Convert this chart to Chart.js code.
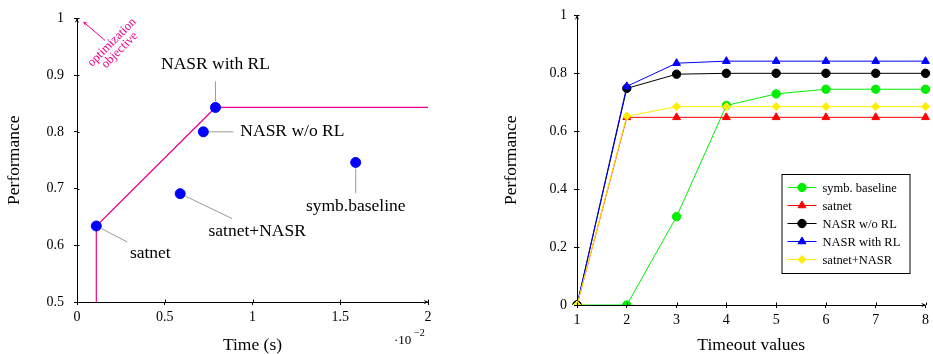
<!DOCTYPE html>
<html>
<head>
<meta charset="utf-8">
<script src="https://cdn.jsdelivr.net/npm/chart.js@4.4.0/dist/chart.umd.min.js"></script>
<style>
body { margin: 0; background: #fff; width: 933px; height: 354px; position: relative; overflow: hidden; }
#left { position: absolute; left: 0; top: 0; }
#right { position: absolute; left: 466px; top: 0; }
</style>
</head>
<body>
<canvas id="left" width="466" height="354"></canvas>
<canvas id="right" width="467" height="354"></canvas>
<script>
// Left chart data: time (x 10^-2 s) vs performance
var methods = ["satnet", "satnet+NASR", "NASR w/o RL", "NASR with RL", "symb.baseline"];
var timeVals = [0.11, 0.588, 0.72, 0.789, 1.588];
var perfVals = [0.634, 0.691, 0.800, 0.843, 0.746];
// pareto front line
var frontX = [0.11, 0.11, 0.789, 2];
var frontY = [0.5, 0.634, 0.843, 0.843];

// Right chart data: performance by timeout
var timeouts = ["1", "2", "3", "4", "5", "6", "7", "8"];
var seriesNames = ["symb. baseline", "satnet", "NASR w/o RL", "NASR with RL", "satnet+NASR"];
var symbBaseline = [0, 0, 0.305, 0.689, 0.729, 0.745, 0.745, 0.745];
var satnet = [0, 0.648, 0.648, 0.648, 0.648, 0.648, 0.648, 0.648];
var nasrNoRl = [0, 0.748, 0.797, 0.800, 0.800, 0.800, 0.800, 0.800];
var nasrRl = [0, 0.755, 0.835, 0.842, 0.842, 0.842, 0.842, 0.842];
var satnetNasr = [0, 0.652, 0.685, 0.685, 0.685, 0.685, 0.685, 0.685];

var serif = "'Liberation Serif', 'Times New Roman', serif";
var pink = "#ec008c";

// label placement for the left chart pins: pin end offset, text offset, align
var pinStyle = [
    { px: 31, py: 16, tx: 54, ty: 27, align: "center" },
    { px: 52, py: 25, tx: 77, ty: 38, align: "center" },
    { px: 30, py: 0, tx: 37, ty: 0, align: "left" },
    { px: 0, py: -26, tx: 0, ty: -43, align: "center" },
    { px: 0, py: 31, tx: 0, ty: 44, align: "center" }
];

function fmt(v) {
    // 1.0 -> "1", 0.5 -> "0.5"
    return String(+(+v).toFixed(2));
}

function arrowHead(ctx, x, y, dx, dy) {
    // small filled arrow head pointing along (dx,dy)
    var len = 5, w = 2.2;
    ctx.beginPath();
    ctx.moveTo(x, y);
    ctx.lineTo(x - dx * len - dy * w, y - dy * len + dx * w);
    ctx.lineTo(x - dx * len * 0.6, y - dy * len * 0.6);
    ctx.lineTo(x - dx * len + dy * w, y - dy * len - dx * w);
    ctx.closePath();
    ctx.fill();
}

function axisDecor(chart) {
    // inner half of the ticks + arrows on both axes
    var ctx = chart.ctx, a = chart.chartArea;
    ctx.save();
    ctx.strokeStyle = "#000";
    ctx.fillStyle = "#000";
    ctx.lineWidth = 1;
    chart.scales.x.ticks.forEach(function (t, i) {
        var px = Math.round(chart.scales.x.getPixelForTick(i)) + 0.5;
        ctx.beginPath();
        ctx.moveTo(px, a.bottom);
        ctx.lineTo(px, a.bottom - 2.5);
        ctx.stroke();
    });
    chart.scales.y.ticks.forEach(function (t, i) {
        var py = Math.round(chart.scales.y.getPixelForTick(i)) + 0.5;
        ctx.beginPath();
        ctx.moveTo(a.left, py);
        ctx.lineTo(a.left + 2.5, py);
        ctx.stroke();
    });
    arrowHead(ctx, a.right + 0.5, a.bottom, 1, 0);
    arrowHead(ctx, a.left, a.top - 0.5, 0, -1);
    ctx.restore();
}

var leftDecor = {
    id: "leftDecor",
    afterDatasetsDraw: function (chart) {
        var ctx = chart.ctx, xs = chart.scales.x, ys = chart.scales.y, a = chart.chartArea;
        axisDecor(chart);
        ctx.save();
        // pins and labels
        ctx.font = "17.5px " + serif;
        ctx.fillStyle = "#000";
        ctx.textBaseline = "middle";
        for (var i = 0; i < methods.length; i++) {
            var x = xs.getPixelForValue(timeVals[i]);
            var y = ys.getPixelForValue(perfVals[i]);
            var s = pinStyle[i];
            var d = Math.sqrt(s.px * s.px + s.py * s.py);
            ctx.strokeStyle = "#808080";
            ctx.lineWidth = 0.8;
            ctx.beginPath();
            ctx.moveTo(x + s.px / d * 6, y + s.py / d * 6);
            ctx.lineTo(x + s.px, y + s.py);
            ctx.stroke();
            ctx.textAlign = s.align;
            ctx.fillText(methods[i], x + s.tx, y + s.ty);
        }
        // optimization objective arrow
        ctx.strokeStyle = pink;
        ctx.fillStyle = pink;
        ctx.lineWidth = 1;
        ctx.beginPath();
        ctx.moveTo(a.left + 28, a.top + 22);
        ctx.lineTo(a.left + 7, a.top + 4);
        ctx.stroke();
        arrowHead(ctx, a.left + 6, a.top + 3, -0.76, -0.65);
        ctx.translate(a.left + 35, a.top + 24);
        ctx.rotate(-Math.PI / 4);
        ctx.font = "12.5px " + serif;
        ctx.textAlign = "center";
        ctx.fillText("optimization", 0, 0);
        ctx.fillText("objective", 0, 11);
        ctx.restore();
        // x10^-2 factor
        ctx.save();
        ctx.fillStyle = "#000";
        ctx.textBaseline = "middle";
        ctx.textAlign = "left";
        ctx.font = "13px " + serif;
        ctx.fillText("\u00b710", a.right - 34, 341);
        ctx.font = "10px " + serif;
        ctx.fillText("\u22122", a.right - 14, 333);
        ctx.restore();
    }
};

var rightDecor = {
    id: "rightDecor",
    afterDatasetsDraw: function (chart) {
        var ctx = chart.ctx, a = chart.chartArea;
        axisDecor(chart);
        // legend box
        var bx = a.right - 144, by = a.bottom - 131, bw = 128, bh = 99;
        ctx.save();
        ctx.fillStyle = "#fff";
        ctx.fillRect(bx, by, bw, bh);
        ctx.strokeStyle = "#000";
        ctx.lineWidth = 1;
        ctx.strokeRect(bx + 0.5, by + 0.5, bw, bh);
        ctx.font = "12.5px " + serif;
        ctx.textBaseline = "middle";
        ctx.textAlign = "left";
        chart.data.datasets.forEach(function (ds, i) {
            var ry = by + 13.5 + i * 18;
            ctx.strokeStyle = ds.borderColor;
            ctx.beginPath();
            ctx.moveTo(bx + 6, ry);
            ctx.lineTo(bx + 35, ry);
            ctx.stroke();
            ctx.fillStyle = ds.backgroundColor;
            Chart.helpers.drawPoint(ctx, {
                pointStyle: ds.pointStyle, radius: ds.pointRadius, borderWidth: 1
            }, bx + 20.5, ry);
            ctx.fillStyle = "#000";
            ctx.fillText(ds.label, bx + 41, ry + 1);
        });
        ctx.restore();
    }
};

var tickFont = { family: serif, size: 14 };
var titleFont = { family: serif, size: 17.5, lineHeight: 1 };

// Left chart: time vs performance
var frontPts = frontX.map(function (v, i) { return { x: v, y: frontY[i] }; });
var methodPts = timeVals.map(function (v, i) { return { x: v, y: perfVals[i] }; });

new Chart("left", {
    type: "scatter",
    data: {
        datasets: [
            { data: frontPts, showLine: true, borderColor: pink, borderWidth: 1.2, pointRadius: 0, order: 2 },
            { data: methodPts, backgroundColor: "#0000ff", borderColor: "#0000ff", pointRadius: 5, order: 1 }
        ]
    },
    options: {
        responsive: false,
        animation: false,
        plugins: { legend: { display: false }, tooltip: { enabled: false } },
        layout: { padding: { left: 6, top: 12, right: 38, bottom: 0 } },
        scales: {
            x: {
                min: 0, max: 2,
                ticks: { stepSize: 0.5, font: tickFont, color: "#000", padding: 4, callback: fmt },
                grid: { drawOnChartArea: false, tickLength: 3, color: "#000" },
                border: { color: "#000", width: 1 },
                title: { display: true, text: "Time (s)", font: titleFont, color: "#000", padding: { top: 3, bottom: 0 } },
                afterFit: function (s) { s.height = 52; }
            },
            y: {
                min: 0.5, max: 1,
                ticks: { stepSize: 0.1, font: tickFont, color: "#000", padding: 10, callback: fmt },
                grid: { drawOnChartArea: false, tickLength: 3, color: "#000" },
                border: { color: "#000", width: 1 },
                title: { display: true, text: "Performance", font: titleFont, color: "#000", padding: { top: 0, bottom: 0 } },
                afterFit: function (s) { s.width = 71; }
            }
        }
    },
    plugins: [leftDecor]
});

// Right chart: timeout values
function series(label, data, color, style, r, order) {
    return {
        label: label, data: data, borderColor: color, backgroundColor: color,
        borderWidth: 1, pointStyle: style, pointRadius: r, pointBorderWidth: 1, order: order
    };
}

new Chart("right", {
    type: "line",
    data: {
        labels: timeouts,
        datasets: [
            series(seriesNames[0], symbBaseline, "#00ee00", "circle", 4.2, 5),
            series(seriesNames[1], satnet, "#ff0000", "triangle", 4.5, 4),
            series(seriesNames[2], nasrNoRl, "#000000", "circle", 4.2, 3),
            series(seriesNames[3], nasrRl, "#0000ff", "triangle", 4.5, 2),
            series(seriesNames[4], satnetNasr, "#ffee00", "rectRot", 4, 1)
        ]
    },
    options: {
        responsive: false,
        animation: false,
        plugins: { legend: { display: false }, tooltip: { enabled: false } },
        layout: { padding: { left: 37, top: 14, right: 6, bottom: 0 } },
        scales: {
            x: {
                offset: false,
                ticks: { font: tickFont, color: "#000", padding: 4 },
                grid: { drawOnChartArea: false, offset: false, tickLength: 3, color: "#000" },
                border: { color: "#000", width: 1 },
                title: { display: true, text: "Timeout values", font: titleFont, color: "#000", padding: { top: 0, bottom: 0 } },
                afterFit: function (s) { s.height = 49; }
            },
            y: {
                min: 0, max: 1,
                ticks: { stepSize: 0.2, font: tickFont, color: "#000", padding: 7, callback: fmt },
                grid: { drawOnChartArea: false, tickLength: 3, color: "#000" },
                border: { color: "#000", width: 1 },
                title: { display: true, text: "Performance", font: titleFont, color: "#000", padding: { top: 0, bottom: 0 } },
                afterFit: function (s) { s.width = 74; }
            }
        }
    },
    plugins: [rightDecor]
});
</script>
</body>
</html>
